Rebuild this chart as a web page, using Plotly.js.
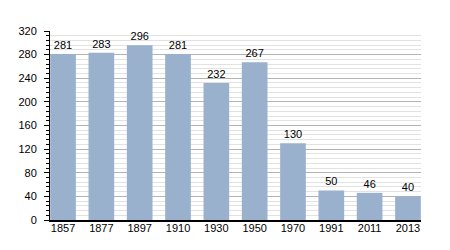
<!DOCTYPE html>
<html><head><meta charset="utf-8">
<script src="https://cdn.plot.ly/plotly-3.0.1.min.js"></script>
<style>html,body{margin:0;padding:0;background:#fff}</style>
</head><body><div id="chart" style="width:450px;height:250px"></div>
<script>
const years = ["1857","1877","1897","1910","1930","1950","1970","1991","2011","2013"];
const population = [281,283,296,281,232,267,130,50,46,40];
const yTicks = [0,40,80,120,160,200,240,280,320];

const trace = {
  type: 'bar',
  x: years,
  y: population,
  text: population.map(String),
  textposition: 'outside',
  cliponaxis: false,
  textfont: {family: 'Liberation Sans, Arial, sans-serif', size: 11, color: '#000'},
  marker: {color: '#99b1cd', line: {width: 0}},
  width: 0.67,
  hoverinfo: 'none'
};

const layout = {
  width: 450, height: 250,
  margin: {l: 50, r: 29, t: 31, b: 30},
  paper_bgcolor: '#fff', plot_bgcolor: '#fff',
  showlegend: false,
  font: {family: 'Liberation Sans, Arial, sans-serif', size: 11, color: '#000'},
  xaxis: {
    type: 'category',
    range: [-0.34, 9.34],
    showline: true, linecolor: '#000', linewidth: 1.5,
    ticks: '', showgrid: false,
    ticklabelstandoff: -3,
    tickfont: {size: 11, color: '#000'}
  },
  yaxis: {
    range: [0, 320],
    tickvals: yTicks,
    showline: true, linecolor: '#000', linewidth: 1,
    ticks: 'outside', ticklen: 5, tickcolor: '#000', tickwidth: 1,
    ticklabelstandoff: 5,
    showgrid: true, gridcolor: '#b4b4b4', gridwidth: 1,
    zeroline: false,
    minor: {dtick: 8, tick0: 0, showgrid: true, gridcolor: '#e2e2e2', gridwidth: 1, ticks: 'outside', ticklen: 3, tickcolor: '#000'},
    tickfont: {size: 11, color: '#000'}
  }
};

Plotly.newPlot('chart', [trace], layout, {displayModeBar: false, staticPlot: true});
</script></body></html>
